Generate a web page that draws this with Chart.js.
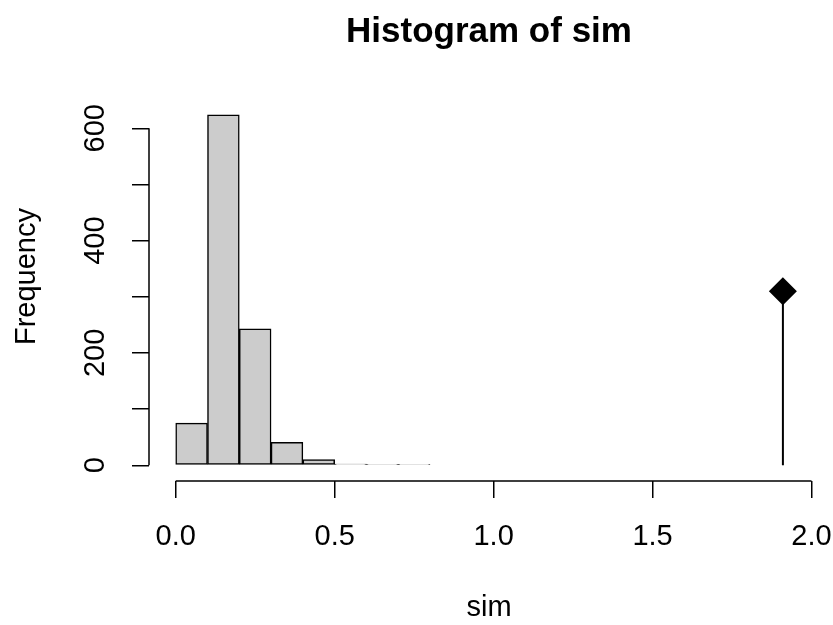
<!DOCTYPE html>
<html>
<head>
<meta charset="utf-8">
<title>Histogram of sim</title>
<script src="https://cdn.jsdelivr.net/npm/chart.js@4.4.1/dist/chart.umd.min.js"></script>
<style>
  html, body { margin: 0; padding: 0; background: #fff; overflow: hidden; }
  #wrap { width: 833px; height: 625px; }
</style>
</head>
<body>
<div id="wrap"><canvas id="histChart" width="833" height="625"></canvas></div>
<script>
// --- Dane ---
const breaks = [0.0, 0.1, 0.2, 0.3, 0.4, 0.5, 0.6, 0.7, 0.8];
const counts = [75, 624, 243, 41, 10, 2, 1, 1];
const obsValue = 1.91;      // observed statistic (vertical line + diamond)
const obsHeight = 310;
const xTicks = [0.0, 0.5, 1.0, 1.5, 2.0];
const yTicks = [0, 100, 200, 300, 400, 500, 600];
const yTickLabels = [0, 200, 400, 600];

const FONT = "'Liberation Sans', Arial, Helvetica, sans-serif";

const histData = counts.map((c, i) => ({ x: (breaks[i] + breaks[i + 1]) / 2, y: c }));
const obsData = [{ x: obsValue, y: 0 }, { x: obsValue, y: obsHeight }];

// --- R-style axes: lines only between first and last tick, rotated y labels ---
const rAxes = {
  id: 'rAxes',
  afterDraw(chart) {
    const { ctx, chartArea } = chart;
    const xs = chart.scales.x, ys = chart.scales.y;
    ctx.save();
    ctx.strokeStyle = '#000';
    ctx.lineWidth = 1.5;
    ctx.beginPath();
    ctx.moveTo(xs.getPixelForValue(xTicks[0]), chartArea.bottom);
    ctx.lineTo(xs.getPixelForValue(xTicks[xTicks.length - 1]), chartArea.bottom);
    ctx.moveTo(chartArea.left, ys.getPixelForValue(yTicks[0]));
    ctx.lineTo(chartArea.left, ys.getPixelForValue(yTicks[yTicks.length - 1]));
    ctx.stroke();

    ctx.fillStyle = '#000';
    ctx.font = '29px ' + FONT;
    ctx.textAlign = 'center';
    ctx.textBaseline = 'middle';
    yTickLabels.forEach(v => {
      ctx.save();
      ctx.translate(chartArea.left - 53, ys.getPixelForValue(v));
      ctx.rotate(-Math.PI / 2);
      ctx.fillText(String(v), 0, 0);
      ctx.restore();
    });
    ctx.restore();
  }
};

new Chart(document.getElementById('histChart'), {
  type: 'bar',
  data: {
    datasets: [
      {
        type: 'bar',
        data: histData,
        backgroundColor: '#cccccc',
        borderColor: '#000',
        borderWidth: 1.5,
        borderSkipped: false,
        barPercentage: 1,
        categoryPercentage: 1,
        order: 2
      },
      {
        type: 'line',
        data: obsData,
        borderColor: '#000',
        borderWidth: 2,
        pointStyle: 'rectRot',
        pointRadius: [0, 14],
        pointBackgroundColor: '#000',
        pointBorderWidth: 0,
        order: 1
      }
    ]
  },
  options: {
    responsive: false,
    animation: false,
    layout: { autoPadding: false, padding: { left: 0, right: 4, top: 0, bottom: 0 } },
    plugins: {
      legend: { display: false },
      tooltip: { enabled: false },
      title: {
        display: true,
        fullSize: false,
        text: 'Histogram of sim',
        color: '#000',
        font: { family: FONT, size: 35, weight: 'bold', lineHeight: 1.2 },
        padding: { top: 11.5, bottom: 18.6 }
      }
    },
    scales: {
      x: {
        type: 'linear',
        offset: false,
        min: -0.084,
        max: 2.055,
        afterBuildTicks: s => { s.ticks = xTicks.map(v => ({ value: v })); },
        afterFit: s => { s.paddingLeft = 0; s.paddingRight = 0; },
        grid: { display: true, offset: false, drawOnChartArea: false, drawTicks: true, tickLength: 17, color: '#000', lineWidth: 1.5 },
        border: { display: false },
        ticks: {
          color: '#000',
          padding: 0,
          maxRotation: 0,
          font: { family: FONT, size: 29, lineHeight: 2.69 },
          callback: v => v.toFixed(1)
        },
        title: {
          display: true,
          text: 'sim',
          color: '#000',
          font: { family: FONT, size: 29, lineHeight: 1.2 },
          padding: { top: 14.2, bottom: 0 }
        }
      },
      y: {
        type: 'linear',
        min: -28,
        max: 700,
        afterBuildTicks: s => { s.ticks = yTicks.map(v => ({ value: v })); },
        grid: { display: true, drawOnChartArea: false, drawTicks: true, tickLength: 17, color: '#000', lineWidth: 1.5 },
        border: { display: false },
        ticks: { display: false },
        title: {
          display: true,
          text: 'Frequency',
          color: '#000',
          font: { family: FONT, size: 29, lineHeight: 1.2 },
          padding: { top: 10, bottom: 87.2 }
        }
      }
    }
  },
  plugins: [rAxes]
});
</script>
</body>
</html>
